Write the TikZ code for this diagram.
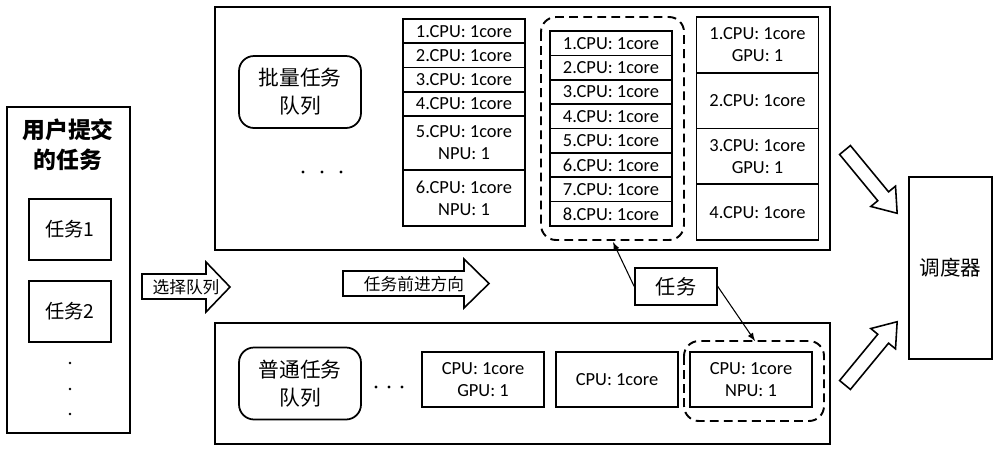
\documentclass[tikz,border=0pt]{standalone}
\usepackage{fontspec}
\setmainfont{Carlito}
\newfontfamily\cjk{Noto Sans CJK SC}
\usetikzlibrary{positioning,calc}

\tikzset{
  frame/.style={draw, thick, line width=0.9pt},
  cell/.style={draw, line width=0.9pt, minimum width=2.44cm, inner sep=0pt, align=center, font=\fontsize{10.5}{12.5}\selectfont},
  queue/.style={draw, line width=1pt, rounded corners=0.3cm, minimum width=2.44cm, minimum height=1.44cm, align=center, font=\cjk\fontsize{11.8}{16}\selectfont},
  dashbox/.style={draw, line width=1.1pt, dash pattern=on 5pt off 3pt, rounded corners=0.3cm},
  fat/.style={draw, line width=0.9pt, fill=white},
  link/.style={-latex, line width=0.6pt}
}

\begin{document}
\begin{tikzpicture}[x=0.02cm, y=-0.02cm]
    \useasboundingbox (0,0) rectangle (1000,453);

    % User tasks
    \draw[frame] (7,107) rectangle (130,433);
    \node[font=\cjk\bfseries\fontsize{13}{17}\selectfont, align=center] (title) at (68,145) {用户提交\\的任务};
    \node[cell, minimum width=1.64cm, minimum height=1.22cm, font=\cjk\fontsize{11}{13}\selectfont] (t1) at (70,229.5) {任务1};
    \node[cell, minimum width=1.64cm, minimum height=1.22cm, font=\cjk\fontsize{11}{13}\selectfont] (t2) at (70,311.5) {任务2};
    \foreach \yy in {363,389,414}
        \fill (70,\yy) circle (1.4);

    % Block arrows
    \draw[fat] (142,274) -- (206,274) -- (206,262) -- (230,287) -- (206,312) -- (206,299) -- (142,299) -- cycle;
    \node[font=\cjk\fontsize{9.5}{11}\selectfont] (sel) at (186,287) {选择队列};
    \draw[fat] (343,271) -- (464,271) -- (464,259) -- (489,283.5) -- (464,308) -- (464,296) -- (343,296) -- cycle;
    \node[font=\cjk\fontsize{9.5}{11}\selectfont] (fwd) at (414,284) {任务前进方向};

    % Batch queue
    \draw[frame] (215,7) rectangle (830,250);
    \node[queue] (batch) at (300,92) {批量任务\\队列};
    \foreach \xx in {303,322,341}
        \fill (\xx,172) circle (1.6);

    % Column A
    \foreach \i/\yy in {1/31.1, 2/55.4, 3/79.6, 4/103.9}
        \node[cell, minimum height=0.485cm] (a\i) at (464,\yy) {\i.CPU: 1core};
    \node[cell, minimum height=1.08cm] (a5) at (464,143) {5.CPU: 1core\\NPU: 1};
    \node[cell, minimum height=1.12cm] (a6) at (464,198) {6.CPU: 1core\\NPU: 1};

    % Column B
    \foreach \i in {1,...,8}
        \node[cell, minimum height=0.4875cm] (b\i) at (611,{31+24.375*(\i-0.5)}) {\i.CPU: 1core};
    \draw[dashbox] (541,17) rectangle (684,240);
    \coordinate (bbot) at (613,242);

    % Column C
    \node[cell, minimum height=1.115cm] (c1) at (757.5,44.9) {1.CPU: 1core\\GPU: 1};
    \node[cell, minimum height=1.115cm] (c2) at (757.5,100.6) {2.CPU: 1core};
    \node[cell, minimum height=1.115cm] (c3) at (757.5,156.4) {3.CPU: 1core\\GPU: 1};
    \node[cell, minimum height=1.115cm] (c4) at (757.5,212.1) {4.CPU: 1core};

    % Normal queue
    \draw[frame] (215,323) rectangle (830,444);
    \node[queue] (normal) at (300,383.5) {普通任务\\队列};
    \foreach \xx in {376,389,402}
        \fill (\xx,387) circle (1.6);
    \node[cell, minimum height=1.1cm] (n1) at (483,379.5) {CPU: 1core\\GPU: 1};
    \node[cell, minimum height=1.1cm] (n2) at (617,379.5) {CPU: 1core};
    \node[cell, minimum height=1.1cm] (n3) at (751,379.5) {CPU: 1core\\NPU: 1};
    \draw[dashbox] (684,341) rectangle (824,421);
    \coordinate (ntop) at (755,341);

    % Task label
    \node[cell, minimum width=1.64cm, minimum height=0.74cm, font=\cjk\fontsize{11.5}{13}\selectfont] (task) at (676,286.5) {任务};
    \draw[link] (task.west) -- (bbot);
    \draw[link] (task.east) -- (ntop);

    % Scheduler
    \node[cell, minimum width=1.66cm, minimum height=3.64cm, font=\cjk\fontsize{11.7}{13}\selectfont] (sched) at (950.5,268) {调度器};
    \begin{scope}[shift={(845,150)}, rotate=-50.5]
        \draw[fat] (0,-7) -- (60,-7) -- (60,-16) -- (82,0) -- (60,16) -- (60,7) -- (0,7) -- cycle;
    \end{scope}
    \begin{scope}[shift={(845,385)}, rotate=50.5]
        \draw[fat] (0,-7) -- (60,-7) -- (60,-16) -- (82,0) -- (60,16) -- (60,7) -- (0,7) -- cycle;
    \end{scope}
\end{tikzpicture}
\end{document}
